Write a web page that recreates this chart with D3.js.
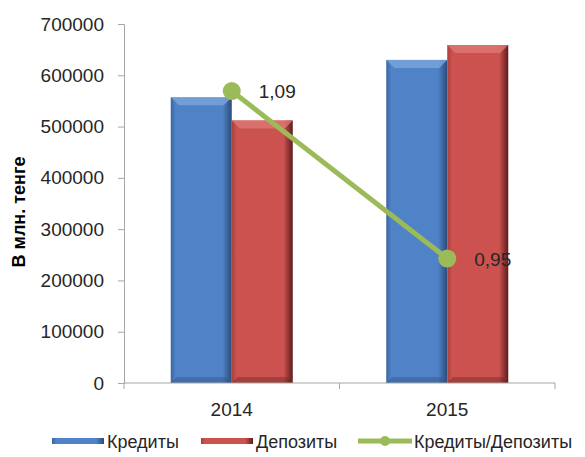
<!DOCTYPE html>
<html>
<head>
<meta charset="utf-8">
<script src="https://cdn.jsdelivr.net/npm/d3@7"></script>
<style>
  body { margin: 0; background: #fff; }
  text { font-family: "Liberation Sans", Arial, sans-serif; fill: #262626; }
</style>
</head>
<body>
<svg id="chart" width="585" height="457"></svg>
<script>

var years = ["2014", "2015"],
    series = ["Кредиты", "Депозиты"],
    credits = [557000, 630000],
    deposits = [512000, 659000],
    ratio = [1.09, 0.95],
    ratioLabels = ["1,09", "0,95"],
    yTicks = [0, 100000, 200000, 300000, 400000, 500000, 600000, 700000];

var colors = { "Кредиты": ["#3b67a3", "#4f82c6", "#2b4b78", "#7ea7dc"],
               "Депозиты": ["#a8403d", "#cb524f", "#5e1c1b", "#e07a77"] },
    green = "#9bbb59";

var svg = d3.select("#chart");

var x = d3.scaleBand().domain(years).range([124, 555]);
var xs = d3.scaleBand().domain(series).range([0, x.bandwidth()]).paddingOuter(0.766);
var y = d3.scaleLinear().domain([0, 700000]).range([383, 24]);
var y2 = d3.scaleLinear().domain([0.846, 1.146]).range([383, 24]);

var defs = svg.append("defs");
series.forEach(function(s, i){
  var c = colors[s];
  var g = defs.append("linearGradient").attr("id", "grad" + i);
  g.append("stop").attr("offset", "0%").attr("stop-color", c[0]);
  g.append("stop").attr("offset", "8%").attr("stop-color", c[1]);
  g.append("stop").attr("offset", "85%").attr("stop-color", c[1]);
  g.append("stop").attr("offset", "100%").attr("stop-color", c[2]);
});

// y axis
var yAxis = svg.append("g")
  .attr("transform", "translate(124,0)")
  .call(d3.axisLeft(y).tickValues(yTicks).tickSize(6).tickPadding(14).tickFormat(d3.format("d")));
yAxis.select(".domain").attr("stroke", "#a6a6a6");
yAxis.selectAll(".tick line").attr("stroke", "#a6a6a6");
yAxis.selectAll("text").style("font-size", "19px").style("fill", "#262626");

svg.append("text")
  .attr("transform", "translate(25,212) rotate(-90)")
  .attr("text-anchor", "middle")
  .style("font-size", "18px")
  .style("font-weight", "bold")
  .style("fill", "#000")
  .text("В млн. тенге");

// bars
var data = [];
years.forEach(function(yr, i){
  data.push({ year: yr, s: series[0], si: 0, v: credits[i] });
  data.push({ year: yr, s: series[1], si: 1, v: deposits[i] });
});

var bars = svg.append("g").selectAll("g").data(data).enter().append("g");
bars.append("rect")
  .attr("x", function(d){ return x(d.year) + xs(d.s); })
  .attr("y", function(d){ return y(d.v); })
  .attr("width", xs.bandwidth())
  .attr("height", function(d){ return y(0) - y(d.v); })
  .attr("fill", function(d){ return "url(#grad" + d.si + ")"; });
// top bevel
bars.append("path")
  .attr("d", function(d){
    var x0 = x(d.year) + xs(d.s), x1 = x0 + xs.bandwidth(), t = y(d.v), b = 8;
    return "M" + x0 + "," + t + "L" + x1 + "," + t + "L" + (x1 - b) + "," + (t + b) + "L" + (x0 + b) + "," + (t + b) + "Z";
  })
  .attr("fill", function(d){ return colors[d.s][3]; })
  .attr("opacity", 0.75);
// bottom shade
bars.append("path")
  .attr("d", function(d){
    var x0 = x(d.year) + xs(d.s), x1 = x0 + xs.bandwidth(), bt = y(0), b = 6;
    return "M" + x0 + "," + bt + "L" + x1 + "," + bt + "L" + (x1 - b) + "," + (bt - b) + "L" + (x0 + b) + "," + (bt - b) + "Z";
  })
  .attr("fill", function(d){ return colors[d.s][2]; })
  .attr("opacity", 0.35);

// x axis
var xg = svg.append("g").attr("transform", "translate(0,383)");
xg.append("line").attr("x1", x.range()[0]).attr("x2", x.range()[1]).attr("stroke", "#a6a6a6");
var bounds = years.map(function(d){ return x(d); }).concat([x.range()[1]]);
xg.selectAll(".tk").data(bounds).enter().append("line")
  .attr("x1", function(d){ return d; }).attr("x2", function(d){ return d; })
  .attr("y1", 0).attr("y2", 6).attr("stroke", "#a6a6a6");
xg.selectAll(".lbl").data(years).enter().append("text")
  .attr("x", function(d){ return x(d) + x.bandwidth() / 2; })
  .attr("y", 33)
  .attr("text-anchor", "middle")
  .style("font-size", "19px")
  .text(function(d){ return d; });

// ratio line
var pts = years.map(function(yr, i){ return [x(yr) + x.bandwidth() / 2, y2(ratio[i])]; });
svg.append("path")
  .attr("d", d3.line()(pts))
  .attr("fill", "none")
  .attr("stroke", green)
  .attr("stroke-width", 5);
svg.selectAll(".dot").data(pts).enter().append("circle")
  .attr("cx", function(d){ return d[0]; })
  .attr("cy", function(d){ return d[1]; })
  .attr("r", 9)
  .attr("fill", green);
svg.selectAll(".rl").data(pts).enter().append("text")
  .attr("x", function(d){ return d[0] + 27; })
  .attr("y", function(d){ return d[1] + 7; })
  .style("font-size", "19px")
  .text(function(d, i){ return ratioLabels[i]; });

// legend
var lg = svg.append("g").attr("transform", "translate(0,441)");
[[52, 0], [201, 1]].forEach(function(p){
  lg.append("rect").attr("x", p[0]).attr("y", -3).attr("width", 52).attr("height", 6)
    .attr("fill", "url(#grad" + p[1] + ")");
  lg.append("text").attr("x", p[0] + 55).attr("y", 7).style("font-size", "18px").text(series[p[1]]);
});
lg.append("line").attr("x1", 358).attr("x2", 412).attr("y1", 0).attr("y2", 0)
  .attr("stroke", green).attr("stroke-width", 5);
lg.append("circle").attr("cx", 385).attr("cy", 0).attr("r", 5).attr("fill", green);
lg.append("text").attr("x", 414).attr("y", 7).style("font-size", "18px").text("Кредиты/Депозиты");

</script>
</body>
</html>
